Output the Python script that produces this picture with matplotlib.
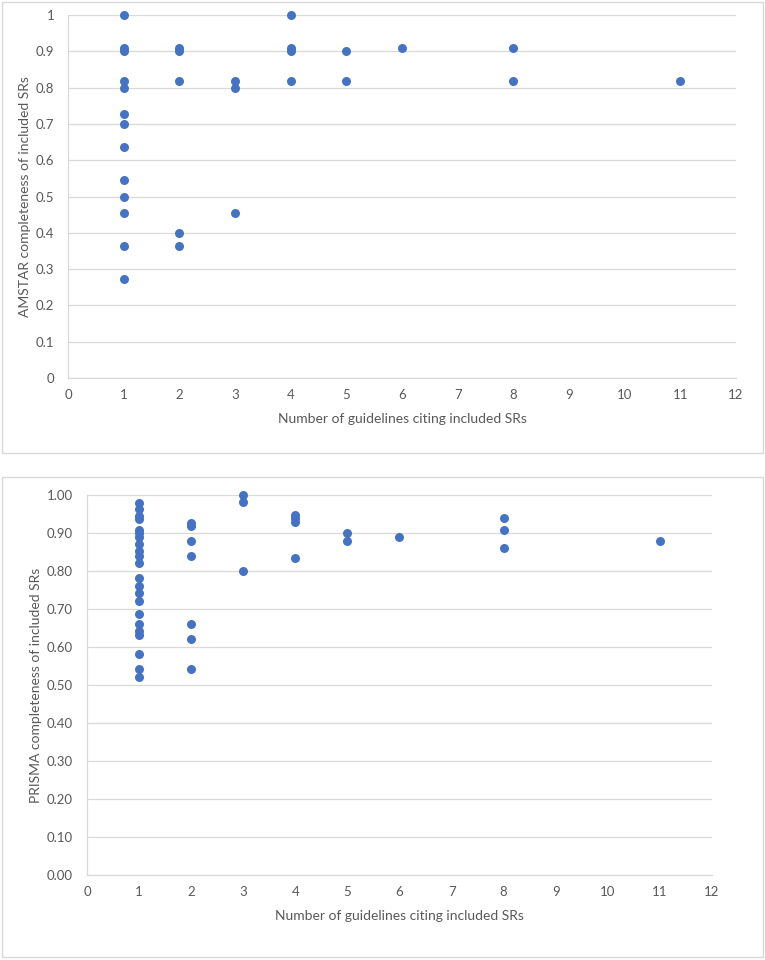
import matplotlib
matplotlib.use("Agg")
import matplotlib.pyplot as plt
from matplotlib.patches import Rectangle

# ---- Data: AMSTAR (top chart) ----
amstar_x = [1, 1, 1, 1, 1, 1, 1, 1, 1, 1, 1, 1, 1,
            2, 2, 2, 2, 2,
            3, 3, 3,
            4, 4, 4, 4,
            5, 5,
            6,
            8, 8,
            11]
amstar_y = [1.0, 0.909, 0.9, 0.818, 0.8, 0.727, 0.7, 0.636, 0.545, 0.5, 0.455, 0.364, 0.273,
            0.909, 0.9, 0.818, 0.4, 0.364,
            0.818, 0.8, 0.455,
            1.0, 0.909, 0.9, 0.818,
            0.9, 0.818,
            0.909,
            0.909, 0.818,
            0.818]

# ---- Data: PRISMA (bottom chart) ----
prisma_x = [1] * 22 + [2] * 7 + [3] * 3 + [4] * 4 + [5] * 2 + [6] + [8] * 3 + [11]
prisma_y = [0.980, 0.962, 0.945, 0.938, 0.908, 0.900, 0.889, 0.870, 0.852, 0.840, 0.821,
            0.781, 0.760, 0.741, 0.721, 0.686, 0.661, 0.642, 0.631, 0.581, 0.543, 0.522,
            0.926, 0.919, 0.880, 0.840, 0.661, 0.620, 0.542,
            1.000, 0.981, 0.800,
            0.948, 0.939, 0.930, 0.833,
            0.900, 0.880,
            0.889,
            0.939, 0.908, 0.860,
            0.880]

x_ticks = list(range(0, 13))
top_y_ticks = [0, 0.1, 0.2, 0.3, 0.4, 0.5, 0.6, 0.7, 0.8, 0.9, 1.0]
top_y_labels = ["0", "0.1", "0.2", "0.3", "0.4", "0.5", "0.6", "0.7", "0.8", "0.9", "1"]
bot_y_labels = ["0.00", "0.10", "0.20", "0.30", "0.40", "0.50", "0.60", "0.70", "0.80", "0.90", "1.00"]
x_label = "Number of guidelines citing included SRs"
top_y_label = "AMSTAR completeness of included SRs"
bot_y_label = "PRISMA completeness of included SRs"

plt.rcParams['font.family'] = ['Lato', 'DejaVu Sans']
TEXT = "#595959"
GRID = "#D9D9D9"
DOT = "#4472C4"

fig = plt.figure(figsize=(7.65, 9.6), dpi=100)

# outer chart boxes
for (b, h) in [(0.528, 0.4698), (0.003125, 0.5)]:
    fig.patches.append(Rectangle((0.0026, b), 0.9948, h, transform=fig.transFigure,
                                 fill=False, edgecolor=GRID, linewidth=1.0))

ax1 = fig.add_axes([0.0889, 0.60625, 0.8732, 0.378125])
ax2 = fig.add_axes([0.1137, 0.08854, 0.8170, 0.3958])

def style(ax, xs, ys, ylabels, ylabel, ylx, xly):
    ax.scatter(xs, ys, s=42, color=DOT, zorder=3, linewidths=0, clip_on=False)
    ax.set_xlim(0, 12)
    ax.set_ylim(0, 1)
    ax.set_xticks(x_ticks)
    ax.set_xticklabels([str(t) for t in x_ticks])
    ax.set_yticks(top_y_ticks)
    ax.set_yticklabels(ylabels)
    ax.tick_params(length=0, labelsize=9.5, colors=TEXT)
    ax.tick_params(axis='x', pad=8)
    ax.tick_params(axis='y', pad=10)
    ax.grid(axis='y', color=GRID, linewidth=0.9, zorder=0)
    ax.set_axisbelow(True)
    for s in ['top', 'right']:
        ax.spines[s].set_visible(False)
    for s in ['left', 'bottom']:
        ax.spines[s].set_color(GRID)
        ax.spines[s].set_linewidth(0.9)
    ax.set_xlabel(x_label, fontsize=10, color=TEXT)
    ax.set_ylabel(ylabel, fontsize=10, color=TEXT)
    ax.xaxis.set_label_coords(0.5, xly)
    ax.yaxis.set_label_coords(ylx, 0.5)
    ax.xaxis.label.set_va('center')
    ax.yaxis.label.set_va('center')

style(ax1, amstar_x, amstar_y, top_y_labels, top_y_label, -0.0644, -0.113)
style(ax2, prisma_x, prisma_y, bot_y_labels, bot_y_label, -0.0816, -0.108)

fig.savefig("out.png", dpi=100)
